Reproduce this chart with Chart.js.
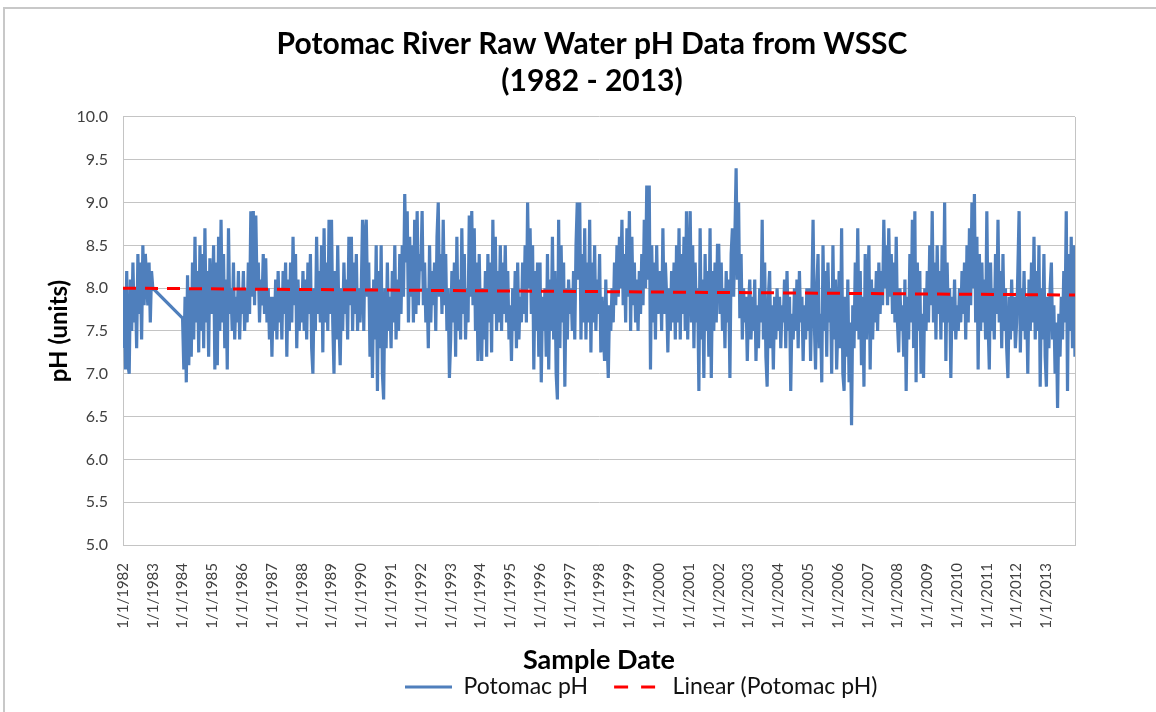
<!DOCTYPE html>
<html>
<head>
<meta charset="utf-8">
<title>Potomac River Raw Water pH</title>
<script src="https://cdn.jsdelivr.net/npm/chart.js@4.4.0/dist/chart.umd.min.js"></script>
<style>
  html, body { margin: 0; padding: 0; background: #fff; }
  #frame { position: absolute; left: 3px; top: 7px; width: 1170px; height: 730px; border: 2px solid #c8c8c8; box-sizing: border-box; }
  #wrap { position: absolute; left: 0; top: 0; width: 1156px; height: 712px; }
</style>
</head>
<body>
<div id="frame"></div>
<div id="wrap"><canvas id="phChart" width="1156" height="712"></canvas></div>
<script>
// pH readings; each year's readings are spread evenly across that year
const sampleYears = [1982, 1983, 1984, 1985, 1986, 1987, 1988, 1989, 1990, 1991, 1992, 1993, 1994, 1995, 1996, 1997,
  1998, 1999, 2000, 2001, 2002, 2003, 2004, 2005, 2006, 2007, 2008, 2009, 2010, 2011, 2012, 2013];
const phReadings = [
  [7.3, 8.0, 7.05, 8.2, 7.1, 7.0, 8.1, 7.5, 8.3, 7.6, 8.0, 7.3, 8.4, 7.7, 8.3, 7.4, 8.5, 7.8, 8.4, 8.1, 7.8, 8.3, 7.6, 8.2],
  [8.0],
  [7.65, 7.05, 7.9, 6.9, 8.15, 7.1, 8.0, 7.2, 8.3, 7.4, 8.6, 7.6, 8.2, 7.25, 8.5, 7.5, 8.4, 7.3, 8.7, 7.6, 8.2, 7.2, 8.35, 7.7],
  [7.8, 8.5, 7.05, 8.3, 7.1, 8.6, 7.5, 8.8, 7.6, 8.4, 7.3, 8.1, 7.05, 8.7, 7.7, 8.0, 7.5, 8.3, 7.4, 7.9, 7.6, 8.2, 7.4, 8.0],
  [7.7, 8.2, 7.5, 8.0, 7.6, 8.3, 7.7, 8.9, 7.9, 8.9, 7.8, 8.85, 8.0, 8.3, 7.6, 8.1, 7.8, 8.4, 7.7, 8.35, 7.6, 8.0, 7.4, 7.9],
  [7.2, 7.9, 7.5, 8.1, 7.4, 8.2, 7.6, 8.0, 7.4, 8.2, 7.7, 8.3, 7.2, 8.1, 7.5, 8.3, 7.6, 8.6, 7.8, 8.4, 7.3, 8.1, 7.5, 8.0],
  [7.6, 8.2, 7.5, 8.1, 7.4, 8.3, 7.7, 8.4, 7.3, 7.0, 8.0, 7.5, 8.6, 7.7, 8.2, 7.6, 8.5, 7.25, 8.7, 7.6, 8.3, 7.5, 8.8, 7.7],
  [8.8, 7.6, 7.0, 8.2, 7.4, 8.5, 7.6, 7.1, 8.0, 7.5, 8.3, 7.7, 8.1, 7.4, 8.6, 7.8, 8.6, 7.5, 8.3, 7.7, 8.4, 7.5, 8.0, 7.6],
  [8.0, 8.8, 7.5, 8.6, 8.8, 7.9, 8.3, 7.2, 8.0, 6.95, 8.1, 7.4, 8.5, 6.8, 8.2, 7.3, 8.5, 7.0, 6.7, 8.0, 7.3, 8.3, 7.5, 7.9],
  [7.3, 8.2, 7.6, 8.5, 7.4, 8.1, 7.5, 8.4, 7.7, 8.5, 7.9, 9.1, 8.3, 8.9, 7.6, 8.6, 7.9, 8.5, 7.6, 8.8, 7.7, 8.9, 7.8, 8.4],
  [8.2, 8.9, 7.8, 8.3, 7.6, 8.0, 7.3, 8.5, 7.6, 8.2, 7.8, 8.3, 7.5, 8.6, 9.0, 7.9, 8.4, 7.7, 8.8, 7.8, 8.4, 7.5, 8.0, 6.95],
  [7.4, 8.2, 7.6, 8.3, 7.2, 8.6, 7.5, 8.1, 7.4, 8.7, 7.7, 8.4, 7.4, 8.0, 7.6, 8.85, 7.9, 8.9, 7.8, 8.7, 7.5, 8.3, 7.15, 8.4],
  [7.6, 7.15, 8.0, 7.4, 8.2, 7.2, 8.4, 7.6, 8.3, 7.25, 8.8, 7.7, 8.6, 7.5, 8.2, 7.6, 8.5, 7.5, 8.3, 7.7, 8.5, 7.6, 8.2, 7.4],
  [7.8, 7.15, 8.0, 7.5, 8.2, 7.3, 8.3, 7.4, 7.9, 7.6, 8.3, 7.7, 8.5, 7.6, 9.0, 8.0, 8.7, 7.7, 8.5, 7.05, 8.2, 7.5, 8.3, 7.2],
  [8.3, 6.9, 7.9, 7.5, 8.0, 7.2, 8.4, 7.05, 8.1, 7.5, 8.6, 7.4, 8.2, 7.0, 6.7, 8.8, 7.3, 8.5, 7.6, 8.3, 6.85, 8.0, 7.4, 8.1],
  [7.7, 8.0, 7.5, 8.2, 7.4, 8.5, 9.0, 8.1, 9.0, 7.4, 8.4, 7.6, 8.7, 7.4, 8.3, 7.6, 8.8, 7.25, 8.3, 7.6, 8.5, 7.5, 8.1, 7.7],
  [8.4, 7.25, 7.9, 7.5, 7.15, 8.1, 7.4, 6.95, 7.8, 7.5, 8.0, 7.6, 8.3, 7.8, 8.5, 7.9, 8.6, 8.0, 8.8, 7.8, 8.4, 7.6, 8.7, 7.9],
  [8.9, 7.5, 8.6, 7.8, 8.3, 7.6, 8.1, 7.5, 8.2, 7.7, 8.4, 7.8, 8.8, 8.0, 9.2, 8.1, 9.2, 7.05, 8.5, 7.6, 8.3, 7.4, 8.5, 7.7],
  [7.8, 8.2, 7.5, 8.7, 7.7, 8.3, 7.9, 7.25, 8.0, 7.5, 8.2, 7.6, 8.3, 7.4, 8.5, 7.6, 8.7, 7.4, 8.4, 7.7, 8.6, 7.5, 8.9, 7.4],
  [8.2, 8.9, 7.6, 8.5, 7.3, 8.3, 7.6, 8.0, 6.8, 8.7, 7.4, 8.1, 6.95, 8.4, 7.5, 8.2, 7.2, 8.7, 6.95, 8.2, 7.5, 8.3, 7.6, 8.5],
  [8.5, 7.7, 8.3, 7.5, 8.0, 7.3, 8.2, 7.6, 8.1, 6.95, 8.4, 8.7, 7.9, 8.6, 9.4, 8.1, 9.0, 7.65, 8.4, 7.4, 8.0, 7.6, 7.9, 7.15],
  [7.8, 8.1, 7.4, 7.9, 7.5, 8.1, 7.15, 7.8, 7.3, 8.0, 7.6, 8.8, 7.4, 8.3, 7.2, 6.85, 7.9, 8.2, 7.3, 7.8, 7.05, 7.9, 7.4, 8.0],
  [7.5, 7.9, 7.3, 7.8, 7.6, 8.1, 7.3, 8.2, 7.5, 7.9, 6.8, 7.7, 7.4, 8.0, 7.5, 8.1, 7.3, 8.2, 7.6, 7.9, 7.15, 7.8, 7.4, 8.0],
  [7.5, 8.0, 7.15, 7.9, 8.8, 7.6, 7.05, 8.0, 8.4, 7.3, 7.7, 6.9, 8.5, 7.5, 8.2, 7.2, 8.3, 7.6, 8.0, 7.0, 8.5, 7.4, 8.1, 7.05],
  [7.6, 8.2, 7.3, 8.7, 7.0, 6.8, 7.9, 7.2, 8.1, 6.9, 7.6, 6.4, 7.8, 7.3, 8.3, 7.5, 8.7, 7.4, 8.2, 7.1, 7.9, 6.85, 8.4, 7.4],
  [8.0, 8.5, 7.05, 8.1, 7.4, 8.0, 7.6, 8.2, 7.5, 8.3, 7.7, 8.2, 7.8, 8.8, 8.0, 8.5, 7.8, 8.7, 7.9, 8.4, 7.7, 8.3, 7.6, 8.6],
  [7.6, 7.25, 8.0, 7.5, 7.8, 7.2, 8.1, 6.8, 7.9, 7.4, 8.4, 7.6, 8.8, 7.3, 8.9, 6.9, 8.3, 7.5, 8.2, 7.0, 7.7, 6.95, 8.0, 7.5],
  [8.2, 7.6, 8.5, 7.8, 8.9, 7.6, 8.3, 7.4, 8.5, 7.7, 8.2, 7.4, 8.5, 7.6, 9.0, 7.15, 8.3, 7.6, 8.0, 6.95, 7.9, 7.5, 8.1, 7.4],
  [7.8, 7.5, 8.0, 7.6, 8.2, 7.7, 8.3, 7.4, 8.5, 7.6, 8.7, 7.8, 9.0, 8.0, 9.1, 7.6, 8.6, 7.05, 8.4, 7.5, 8.3, 7.6, 8.1, 7.4],
  [8.9, 7.6, 7.05, 8.3, 7.5, 8.0, 7.4, 8.4, 7.7, 8.8, 7.6, 8.2, 7.3, 8.4, 7.5, 8.0, 7.3, 6.95, 7.9, 7.4, 8.1, 7.5, 7.9, 7.3],
  [7.6, 8.2, 8.9, 7.25, 8.0, 7.5, 8.2, 7.4, 7.9, 7.0, 8.1, 7.5, 8.3, 7.6, 8.6, 7.4, 8.2, 7.5, 8.5, 6.85, 8.0, 7.4, 8.4, 7.2],
  [6.85, 7.9, 7.3, 8.0, 8.3, 7.4, 7.8, 7.0, 7.6, 6.6, 7.7, 7.2, 7.9, 7.4, 8.2, 7.6, 8.9, 6.8, 8.4, 7.5, 8.6, 7.3, 8.5, 7.2]
];

// linear trend line, start and end values
const trendYears = [1982, 2013.96];
const trendValues = [8.0, 7.92];

const tickYears = sampleYears.slice();
const yTicks = [5.0, 5.5, 6.0, 6.5, 7.0, 7.5, 8.0, 8.5, 9.0, 9.5, 10.0];

const phPoints = [];
sampleYears.forEach((year, i) => {
  const vals = phReadings[i];
  vals.forEach((v, j) => {
    phPoints.push({ x: year + j / vals.length, y: v });
  });
});
const trendPoints = trendYears.map((x, i) => ({ x: x, y: trendValues[i] }));

const FONT = "Lato, 'Open Sans', sans-serif";
const GRID = "#c4c4c4";
const LEGEND_START_X = 405;

// right edge of the plot box, and legend nudged to where Excel put it
const plotBorder = {
  id: "plotBorder",
  afterLayout(chart) {
    const lg = chart.legend;
    const dx = LEGEND_START_X - (lg.left + lg.options.labels.padding);
    lg.left += dx;
    lg.right += dx;
  },
  afterDraw(chart) {
    const { ctx, chartArea } = chart;
    ctx.save();
    ctx.strokeStyle = GRID;
    ctx.lineWidth = 1;
    ctx.beginPath();
    ctx.moveTo(chartArea.right + 0.5, chartArea.top);
    ctx.lineTo(chartArea.right + 0.5, chartArea.bottom);
    ctx.stroke();
    ctx.restore();
  }
};

// legend samples drawn as lines; the dashed one shows two dashes like Excel
function legendLabels(chart) {
  const items = Chart.defaults.plugins.legend.labels.generateLabels(chart);
  items.forEach((item) => {
    const ds = chart.data.datasets[item.datasetIndex];
    item.lineDash = ds.borderDash ? [14, 13] : [];
    item.lineWidth = ds.borderWidth;
    item.strokeStyle = ds.borderColor;
    item.fillStyle = ds.borderColor;
  });
  return items;
}

const ctx = document.getElementById("phChart").getContext("2d");
new Chart(ctx, {
  type: "line",
  data: {
    datasets: [
      {
        label: "Potomac pH",
        data: phPoints,
        borderColor: "#4f7fbc",
        backgroundColor: "#4f7fbc",
        borderWidth: 3.2,
        pointRadius: 0,
        tension: 0,
        order: 1
      },
      {
        label: "Linear (Potomac pH)",
        data: trendPoints,
        borderColor: "#ff0000",
        backgroundColor: "#ff0000",
        borderWidth: 3,
        borderDash: [13, 9],
        pointRadius: 0,
        order: 0
      }
    ]
  },
  options: {
    responsive: false,
    animation: false,
    layout: { padding: { left: 28, right: 0, top: 0, bottom: 3.5 } },
    plugins: {
      title: {
        display: true,
        text: ["Potomac River Raw Water pH Data from WSSC", "(1982 - 2013)"],
        color: "#000",
        font: { family: FONT, size: 30, weight: "bold", lineHeight: 1.233 },
        padding: { top: 25.5, bottom: 17.5 }
      },
      legend: {
        position: "bottom",
        align: "start",
        labels: {
          usePointStyle: true,
          pointStyle: "line",
          pointStyleWidth: 47,
          color: "#111",
          font: { family: FONT, size: 23 },
          padding: 26,
          generateLabels: legendLabels,
          sort: (a, b) => a.datasetIndex - b.datasetIndex
        }
      },
      tooltip: { enabled: false }
    },
    scales: {
      x: {
        type: "linear",
        min: 1982,
        max: 2013.96,
        afterFit: (axis) => { axis.height = 104.5; },
        grid: { display: false },
        border: { display: true, color: GRID },
        ticks: {
          stepSize: 1,
          includeBounds: false,
          autoSkip: false,
          maxRotation: 90,
          minRotation: 90,
          color: "#404040",
          font: { family: FONT, size: 15 },
          padding: 10,
          callback: (v) => (tickYears.includes(v) ? "1/1/" + v : "")
        },
        title: {
          display: true,
          text: "Sample Date",
          color: "#000",
          font: { family: FONT, size: 27, weight: "bold", lineHeight: 1.2 },
          padding: { top: 0, bottom: -26.7 }
        }
      },
      y: {
        min: 5,
        max: 10,
        afterFit: (axis) => { axis.width = 95; },
        afterBuildTicks: (axis) => { axis.ticks = yTicks.map((v) => ({ value: v })); },
        grid: { color: GRID, drawTicks: false },
        border: { display: true, color: GRID },
        ticks: {
          color: "#404040",
          font: { family: FONT, size: 16 },
          padding: 15,
          callback: (v) => Number(v).toFixed(1)
        },
        title: {
          display: true,
          text: "pH (units)",
          color: "#000",
          font: { family: FONT, size: 24, weight: "bold", lineHeight: 1.2 },
          padding: { top: 17, bottom: 0 }
        }
      },
      // empty axis that only reserves the space right of the plot
      yRight: {
        position: "right",
        display: true,
        afterFit: (axis) => { axis.width = 81; },
        grid: { display: false },
        border: { display: false },
        ticks: { display: false }
      }
    }
  },
  plugins: [plotBorder]
});
</script>
</body>
</html>
